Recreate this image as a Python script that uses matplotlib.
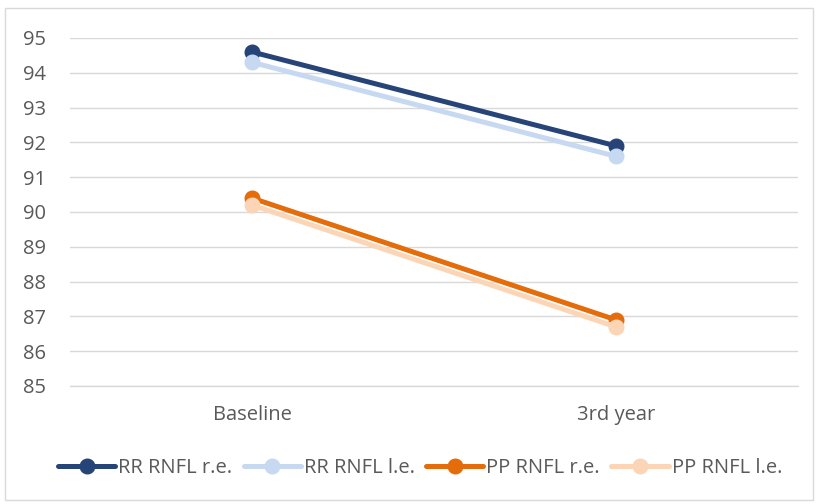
import matplotlib
matplotlib.use("Agg")
import matplotlib.pyplot as plt
from matplotlib.patches import Rectangle

# ----------------------------------------------------------
# Data
# ----------------------------------------------------------

categories = ["Baseline", "3rd year"]

rr_re = [94.6, 91.9]
rr_le = [94.3, 91.6]
pp_re = [90.4, 86.9]
pp_le = [90.2, 86.7]

series_names = ["RR RNFL r.e.", "RR RNFL l.e.", "PP RNFL r.e.", "PP RNFL l.e."]
series_colors = ["#264478", "#C6D9F0", "#E46C0A", "#FBD5B5"]

y_ticks = list(range(85, 96))

# ----------------------------------------------------------
# Figure
# ----------------------------------------------------------

plt.rcParams["font.family"] = ["Open Sans", "DejaVu Sans"]
text_color = "#595959"
font_size = 14.5

fig = plt.figure(figsize=(8.18, 5.04), dpi=100)
ax = fig.add_axes([70 / 818, 1 - 386 / 504, (798 - 70) / 818, (386 - 38) / 504])

x = list(range(len(categories)))
for values, name, color in zip([rr_re, rr_le, pp_re, pp_le], series_names, series_colors):
    ax.plot(x, values, color=color, linewidth=3.6, marker="o",
            markersize=10.5, solid_capstyle="round", label=name)

ax.set_xlim(-0.5, 1.5)
ax.set_ylim(85, 95)
ax.set_yticks(y_ticks)
ax.set_xticks(x)
ax.set_xticklabels(categories)

ax.grid(axis="y", color="#D9D9D9", linewidth=1.0)
ax.set_axisbelow(True)
for side in ["top", "right", "left"]:
    ax.spines[side].set_visible(False)
ax.spines["bottom"].set_color("#D9D9D9")
ax.spines["bottom"].set_linewidth(1.0)

ax.tick_params(axis="both", length=0, labelsize=font_size, colors=text_color)
ax.tick_params(axis="y", pad=17)
ax.tick_params(axis="x", pad=14)

leg = fig.legend(loc="center", bbox_to_anchor=(420 / 818, 1 - 468 / 504), ncol=4,
                 frameon=False, fontsize=font_size, handlelength=2.85,
                 handletextpad=0.15, columnspacing=0.55)
for txt in leg.get_texts():
    txt.set_color(text_color)

# outer chart border
fig.patches.append(Rectangle((5 / 818, 4 / 504), 808 / 818, 492 / 504,
                             transform=fig.transFigure, fill=False,
                             edgecolor="#D9D9D9", linewidth=1.0))

fig.savefig("out.png", dpi=100)
